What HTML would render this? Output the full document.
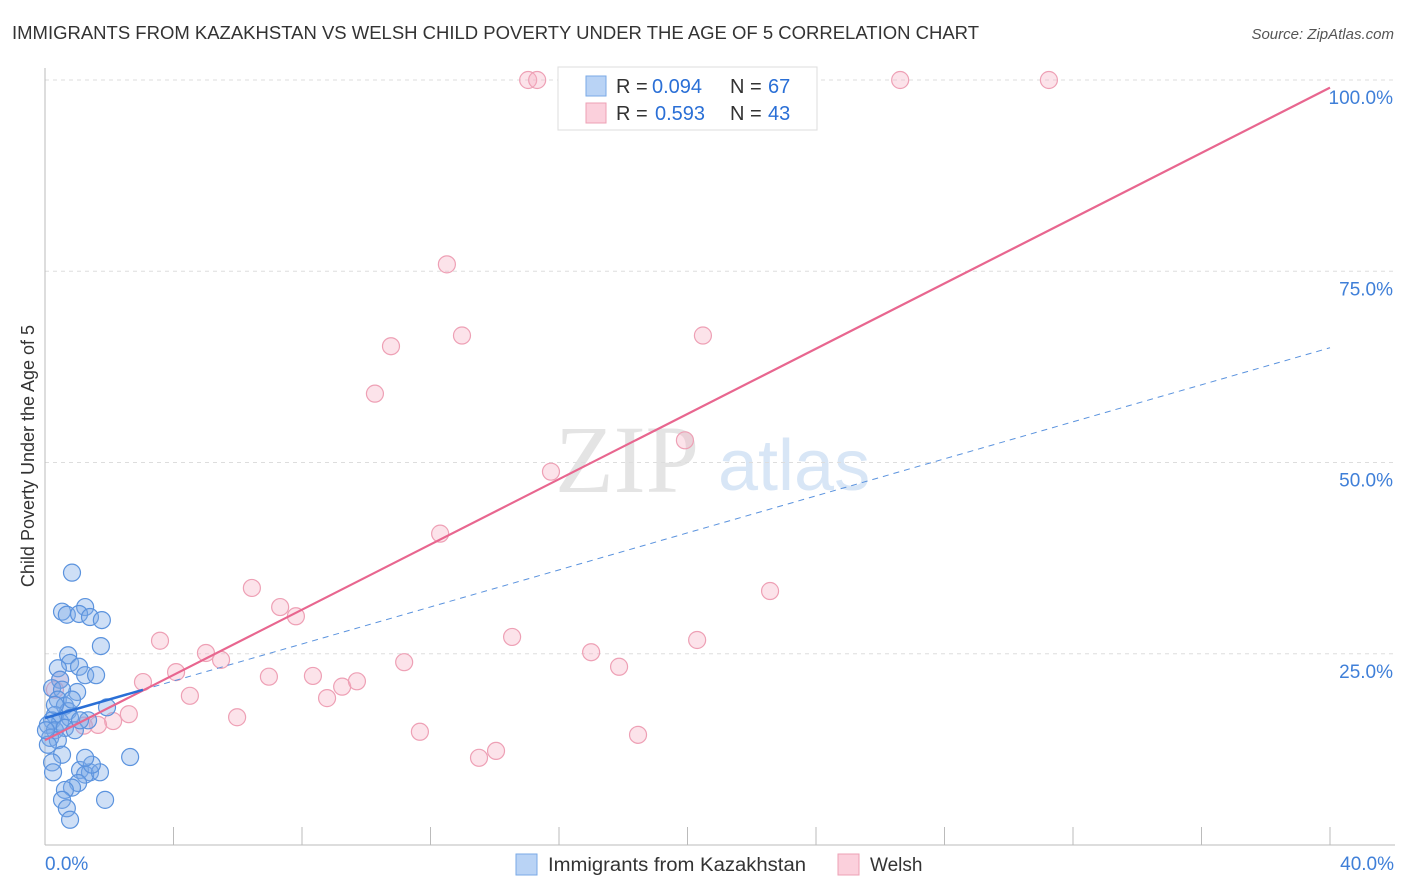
<!DOCTYPE html>
<html><head><meta charset="utf-8"><style>
body{margin:0;background:#fff;font-family:"Liberation Sans",sans-serif}
svg{display:block}
</style></head><body>
<svg id="c" width="1406" height="892">
<text x="12" y="39" font-size="18" fill="#333" textLength="967" lengthAdjust="spacingAndGlyphs">IMMIGRANTS FROM KAZAKHSTAN VS WELSH CHILD POVERTY UNDER THE AGE OF 5 CORRELATION CHART</text>
<text x="1394" y="39" font-size="15" fill="#555" font-style="italic" text-anchor="end">Source: ZipAtlas.com</text>
<text x="34" y="456" font-size="18" fill="#333" text-anchor="middle" transform="rotate(-90 34 456)">Child Poverty Under the Age of 5</text>
<text x="555" y="492" font-size="96" fill="#e4e4e4" font-family="Liberation Serif,serif">ZIP</text>
<text x="718" y="490" font-size="72" fill="#d8e6f6">atlas</text>
<g id="grid"></g><g id="marks"></g>
<g font-size="20">
<rect x="558" y="67" width="259" height="63" fill="#fff" stroke="#ddd"/>
<rect x="586" y="76" width="20" height="20" fill="#b9d3f5" stroke="#7aaae6"/>
<rect x="586" y="103" width="20" height="20" fill="#fbd0dc" stroke="#eea0b5"/>
<text x="616" y="93" fill="#333">R =</text><text x="652" y="93" fill="#2a6fd6">0.094</text>
<text x="730" y="93" fill="#333">N =</text><text x="768" y="93" fill="#2a6fd6">67</text>
<text x="616" y="120" fill="#333">R =</text><text x="655" y="120" fill="#2a6fd6">0.593</text>
<text x="730" y="120" fill="#333">N =</text><text x="768" y="120" fill="#2a6fd6">43</text>
</g>
<g>
<rect x="516" y="854" width="21" height="21" fill="#b9d3f5" stroke="#7aaae6"/>
<text x="548" y="871" font-size="19" fill="#333" textLength="258" lengthAdjust="spacingAndGlyphs">Immigrants from Kazakhstan</text>
<rect x="838" y="854" width="21" height="21" fill="#fbd0dc" stroke="#eea0b5"/>
<text x="870" y="871" font-size="19" fill="#333">Welsh</text>
</g>
</svg>
<script>
const xTicks=["0.0%","40.0%"];
const yTicks=[25,50,75,100];
const blueX=[0.84,0.53,0.68,1.25,1.06,1.40,1.77,1.74,0.72,0.78,1.06,1.25,1.59,0.40,0.47,0.22,1.00,0.53,0.40,0.62,0.72,0.31,0.22,0.47,0.78,0.09,0.31,0.62,0.93,0.16,0.40,0.09,1.34,1.93,2.65,0.53,0.22,0.25,1.09,1.40,1.25,1.03,0.84,0.62,0.53,0.68,0.78,1.87,0.03,0.31,0.84,1.09,1.71,1.46,1.25];
const blueY=[35.6,30.5,30.1,31.1,30.2,29.8,29.4,26.0,24.8,23.8,23.3,22.2,22.2,23.1,21.6,20.5,20.0,20.3,19.0,18.2,17.5,17.0,16.3,16.1,16.6,15.7,15.0,15.3,15.0,14.0,13.7,13.1,16.3,18.0,11.5,11.8,10.8,9.5,9.8,9.5,9.2,8.1,7.5,7.2,5.9,4.8,3.3,5.9,15.0,18.3,19.0,16.3,9.5,10.5,11.4];
const pinkX=[15.04,15.32,26.62,31.25,12.51,12.98,10.77,20.48,10.27,19.92,15.75,12.30,6.44,22.57,7.32,7.81,3.58,14.54,20.30,5.01,17.00,5.48,4.08,17.87,11.18,6.97,8.34,9.25,9.71,3.05,4.51,8.78,5.98,2.61,2.12,1.65,1.21,18.46,11.67,14.04,13.51,0.47,0.31];
const pinkY=[100,100,100,100,75.9,66.6,65.2,66.6,59.0,52.9,48.8,40.7,33.6,33.2,31.1,29.9,26.7,27.2,26.8,25.1,25.2,24.2,22.6,23.3,23.9,22.0,22.1,20.7,21.4,21.3,19.5,19.2,16.7,17.1,16.2,15.7,15.6,14.4,14.8,12.3,11.4,21.6,20.3];
const pinkTrend=[13.7,99.0];
const blueTrend=[16.6,65.0];
const blueSolidEnd=3.05;
const X=v=>45+v/40*1285, Y=v=>845-v/100*765;
const NS="http://www.w3.org/2000/svg";
function mk(tag,attrs,parent){const e=document.createElementNS(NS,tag);for(const k in attrs)e.setAttribute(k,attrs[k]);parent.appendChild(e);return e;}
const grid=document.getElementById('grid'),marks=document.getElementById('marks');
yTicks.forEach(t=>{
 const l=mk('line',{x1:45,x2:1395,y1:Y(t),y2:Y(t),stroke:'#ddd','stroke-dasharray':'4,4'},grid);
 
 
 const tx=mk('text',{x:1393,y:Y(t)+24,'font-size':19,fill:'#3f7fd8','text-anchor':'end'},grid);
 tx.textContent=t.toFixed(1)+'%';
 
 
});
let ax=mk('line',{x1:45,x2:45,y1:68,y2:845,stroke:'#bbb'},grid);


ax=mk('line',{x1:45,x2:1395,y1:845,y2:845,stroke:'#bbb'},grid);


for(let i=0;i<=10;i++){const x=X(i*4);const t=mk('line',{x1:x,x2:x,y1:827,y2:845,stroke:'#bbb'},grid);
 
 }
[[0,'start',45],[40,'end',1394]].forEach((d,i)=>{const t=mk('text',{x:d[2],y:870,'font-size':19,fill:'#3f7fd8','text-anchor':d[1]},grid);t.textContent=xTicks[i];
 
 });
function dots(xs,ys,fill,stroke,name){xs.forEach((v,i)=>{const c=mk('circle',{cx:X(v),cy:Y(ys[i]),r:8.5,fill:fill,stroke:stroke,'stroke-width':1.2},marks);
 
 });}
dots(pinkX,pinkY,'rgba(246,176,196,0.35)','#eea0b5','welsh-point');
dots(blueX,blueY,'rgba(125,170,232,0.38)','#5b93de','kazakhstan-point');
const bAt=v=>blueTrend[0]+(blueTrend[1]-blueTrend[0])*v/40;
let l=mk('line',{x1:X(blueSolidEnd),y1:Y(bAt(blueSolidEnd)),x2:X(40),y2:Y(blueTrend[1]),stroke:'#5b93de','stroke-dasharray':'6,5','stroke-width':1},marks);


l=mk('line',{x1:X(0),y1:Y(pinkTrend[0]),x2:X(40),y2:Y(pinkTrend[1]),stroke:'#e8668f','stroke-width':2.2},marks);


l=mk('line',{x1:X(0),y1:Y(blueTrend[0]),x2:X(blueSolidEnd),y2:Y(bAt(blueSolidEnd)),stroke:'#2a6fd6','stroke-width':2.5},marks);


</script>
</body></html>
